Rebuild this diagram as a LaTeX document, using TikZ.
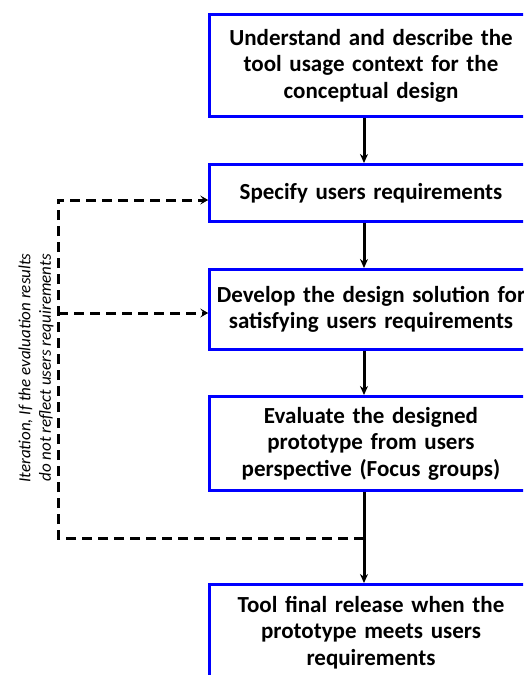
\documentclass[tikz,border=0pt]{standalone}
\usepackage{fontspec}
\setmainfont{Carlito}
\usetikzlibrary{arrows.meta,positioning}
\tikzset{
  every picture/.style={line width=3pt},
  stepbox/.style={draw=blue, line width=2.6pt, minimum width=323pt, text width=322pt, align=center, inner sep=0pt, font=\bfseries\fontsize{23}{26.5}\selectfont},
  flow/.style={-{Stealth[length=9pt,width=8pt]}, line width=3pt},
  loopline/.style={-{Stealth[length=8pt,width=9pt,inset=3.5pt]}, line width=3pt, dash pattern=on 10pt off 6pt},
  every label/.append style={font=\footnotesize}
}
\begin{document}
\begin{tikzpicture}[x=1pt, y=-1pt, tips=proper]
    \useasboundingbox (0,0) rectangle (523,675);
    \clip (0,0) rectangle (523,675);

    \node [stepbox, minimum height=102.4pt] (understand) at (371,65.5) {Understand and describe the\\ tool usage context for the\\ conceptual design};
    \node [stepbox, minimum height=57.4pt, below=45pt of understand] (specify) {Specify users requirements};
    \node [stepbox, minimum height=80.4pt, below=45pt of specify] (develop) {Develop the design solution for\\ satisfying users requirements};
    \node [stepbox, minimum height=94.4pt, below=44pt of develop] (evaluate) {Evaluate the designed\\ prototype from users\\ perspective (Focus groups)};
    \node [stepbox, minimum height=96pt, below=91pt of evaluate] (release) {Tool final release when the\\ prototype meets users\\ requirements};

    \node [rotate=90, align=center, font=\itshape\fontsize{17}{20.5}\selectfont] (note) at (36,368) {Iteration, If the evaluation results\\ do not reflect users requirements};

    \draw[flow] ([xshift=-7pt]understand.south) -- ([xshift=-7pt]specify.north);
    \draw[flow] ([xshift=-7pt]specify.south) -- ([xshift=-7pt]develop.north);
    \draw[flow] ([xshift=-7pt]develop.south) -- ([xshift=-7pt]evaluate.north);
    \draw[flow] ([xshift=-7pt]evaluate.south) coordinate (trunk) -- ([xshift=-7pt]release.north);

    % feedback loop
    \coordinate (corner) at (58,538);
    \coordinate (specin) at ([yshift=-7pt]specify.west);
    \coordinate (devin) at ([yshift=-3.5pt]develop.west);
    \draw[loopline] (trunk |- corner) -- (corner) |- (specin);
    \draw[loopline] (corner |- devin) -- (devin);
  \end{tikzpicture}
\end{document}
